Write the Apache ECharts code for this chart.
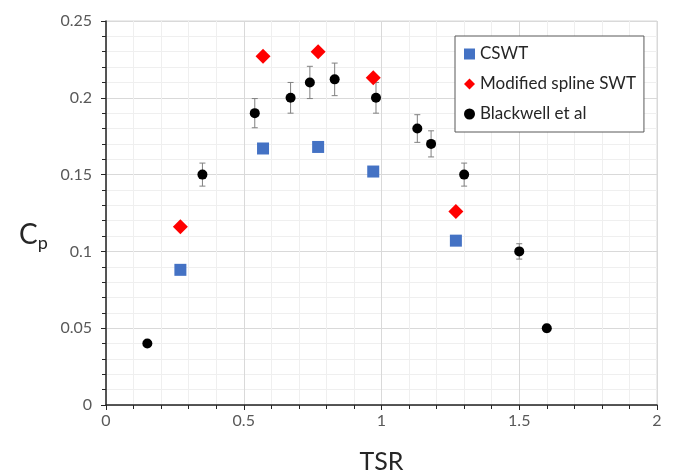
<!DOCTYPE html>
<html>
<head>
<meta charset="utf-8">
<script src="https://cdn.jsdelivr.net/npm/echarts@6/dist/echarts.min.js"></script>
<style>html,body{margin:0;padding:0;background:#fff}#c{width:678px;height:475px}</style>
</head>
<body>
<div id="c"></div>
<script>
var cswtX = [0.27, 0.57, 0.77, 0.97, 1.27];
var cswtY = [0.088, 0.167, 0.168, 0.152, 0.107];
var splineX = [0.27, 0.57, 0.77, 0.97, 1.27];
var splineY = [0.116, 0.227, 0.230, 0.213, 0.126];
var blackX = [0.15, 0.35, 0.54, 0.67, 0.74, 0.83, 0.98, 1.13, 1.18, 1.30, 1.50, 1.60];
var blackY = [0.040, 0.150, 0.190, 0.200, 0.210, 0.212, 0.200, 0.180, 0.170, 0.150, 0.100, 0.050];
var blackErr = [0.002, 0.0075, 0.0095, 0.010, 0.0105, 0.0106, 0.010, 0.009, 0.0085, 0.0075, 0.005, 0.0025];
var seriesNames = ['CSWT', 'Modified spline SWT', 'Blackwell et al'];
var xTicks = [0, 0.5, 1, 1.5, 2];
var yTicks = [0, 0.05, 0.1, 0.15, 0.2, 0.25];

var FONT = 'Lato, "Open Sans", sans-serif';
var chart = echarts.init(document.getElementById('c'), null, {renderer: 'canvas'});

function zip(xs, ys) { return xs.map(function (x, i) { return [x, ys[i]]; }); }
var errData = blackX.map(function (x, i) { return [x, blackY[i] - blackErr[i], blackY[i] + blackErr[i]]; });

chart.setOption({
  animation: false,
  backgroundColor: '#fff',
  textStyle: {fontFamily: FONT},
  grid: {left: 106, right: 21, top: 21, bottom: 70, containLabel: false, outerBoundsMode: 'none',
         show: true, borderColor: '#d9d9d9', borderWidth: 1},
  xAxis: {
    type: 'value', min: 0, max: 2, interval: 0.5,
    name: 'TSR', nameLocation: 'middle', nameGap: 44,
    nameTextStyle: {fontSize: 25, color: '#262626', fontFamily: FONT},
    axisLine: {show: true, onZero: false, lineStyle: {color: '#262626', width: 1.5}},
    axisTick: {show: true, length: 5, lineStyle: {color: '#262626'}},
    minorTick: {show: true, splitNumber: 5, length: 4, lineStyle: {color: '#262626'}},
    axisLabel: {fontSize: 16, color: '#595959', margin: 8, fontFamily: FONT,
      formatter: function (v) { return xTicks.indexOf(v) >= 0 ? String(v) : ''; }},
    splitLine: {show: true, lineStyle: {color: '#d9d9d9', width: 1}},
    minorSplitLine: {show: true, lineStyle: {color: '#efefef', width: 1}}
  },
  yAxis: {
    type: 'value', min: 0, max: 0.25, interval: 0.05,
    axisLine: {show: true, onZero: false, lineStyle: {color: '#262626', width: 1.5}},
    axisTick: {show: true, length: 5, lineStyle: {color: '#262626'}},
    minorTick: {show: true, splitNumber: 5, length: 4, lineStyle: {color: '#262626'}},
    axisLabel: {fontSize: 16, color: '#595959', margin: 14, fontFamily: FONT,
      formatter: function (v) {
        for (var i = 0; i < yTicks.length; i++) if (Math.abs(yTicks[i] - v) < 1e-9) return String(yTicks[i]);
        return '';
      }},
    splitLine: {show: true, lineStyle: {color: '#d9d9d9', width: 1}},
    minorSplitLine: {show: true, lineStyle: {color: '#efefef', width: 1}}
  },
  graphic: [{
    type: 'text', left: 19, top: 221,
    style: {
      text: 'C{s|p}', fill: '#262626', font: '28px ' + FONT,
      rich: {s: {fontSize: 18, fill: '#262626', padding: [16, 0, 0, 0], fontFamily: FONT}}
    }
  }],
  legend: {
    orient: 'vertical', left: 455, top: 36, width: 184,
    padding: [9, 8, 9, 9], itemGap: 12,
    backgroundColor: '#fff', borderColor: '#595959', borderWidth: 1,
    itemWidth: 11, itemHeight: 11,
    textStyle: {fontSize: 17, color: '#262626', fontFamily: FONT, lineHeight: 18},
    data: [
      {name: seriesNames[0], icon: 'rect'},
      {name: seriesNames[1], icon: 'diamond'},
      {name: seriesNames[2], icon: 'circle'}
    ]
  },
  series: [
    {
      type: 'custom', name: 'err', silent: true, z: 2,
      data: errData,
      renderItem: function (params, api) {
        var x = api.value(0);
        var lo = api.coord([x, api.value(1)]);
        var hi = api.coord([x, api.value(2)]);
        var w = 3;
        var st = {stroke: '#808080', lineWidth: 1};
        return {type: 'group', children: [
          {type: 'line', shape: {x1: lo[0], y1: lo[1], x2: hi[0], y2: hi[1]}, style: st},
          {type: 'line', shape: {x1: lo[0] - w, y1: lo[1], x2: lo[0] + w, y2: lo[1]}, style: st},
          {type: 'line', shape: {x1: hi[0] - w, y1: hi[1], x2: hi[0] + w, y2: hi[1]}, style: st}
        ]};
      }
    },
    {name: seriesNames[0], type: 'scatter', symbol: 'rect', symbolSize: 12, z: 3,
     itemStyle: {color: '#4472C4', opacity: 1}, data: zip(cswtX, cswtY)},
    {name: seriesNames[1], type: 'scatter', symbol: 'diamond', symbolSize: 15, z: 3,
     itemStyle: {color: '#FF0000', opacity: 1}, data: zip(splineX, splineY)},
    {name: seriesNames[2], type: 'scatter', symbol: 'circle', symbolSize: 10, z: 4,
     itemStyle: {color: '#000000', opacity: 1}, data: zip(blackX, blackY)}
  ]
});
</script>
</body>
</html>
